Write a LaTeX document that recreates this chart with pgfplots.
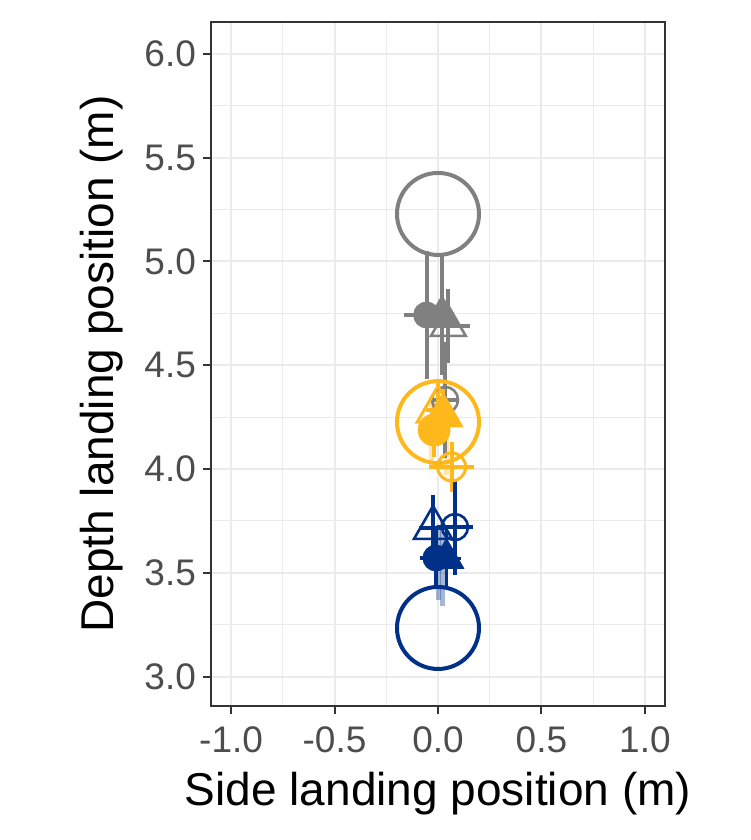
\documentclass[border=0pt]{standalone}
\usepackage{pgfplots}
\pgfplotsset{compat=1.18}
\usepackage{fontspec}
\setmainfont{Liberation Sans}
\definecolor{grayc}{HTML}{808080}
\definecolor{goldc}{HTML}{FFB81C}
\definecolor{bluec}{HTML}{003087}
\definecolor{gridc}{HTML}{EBEBEB}
\definecolor{framec}{HTML}{333333}
\definecolor{tickc}{HTML}{4D4D4D}
\pgfplotsset{
  eb/.style={error bars/.cd, x dir=both, x explicit, y dir=both, y explicit,
    error bar style={line width=1.9pt}, error mark options={line width=1.9pt, mark size=3pt}},
  lb/.style={draw=none, mark=none, error bars/.cd, y dir=both, y explicit,
    error bar style={line width=2.5pt, opacity=0.35, color=#1}, error mark=none},
}
\begin{document}
\begin{tikzpicture}
\begin{axis}[
  scale only axis, width=227pt, height=342pt,
  xmin=-1.097, xmax=1.097, ymin=2.858, ymax=6.154,
  xtick={-1,-0.5,0,0.5,1}, xticklabels={-1.0,-0.5,0.0,0.5,1.0},
  ytick={3,3.5,4,4.5,5,5.5,6}, yticklabels={3.0,3.5,4.0,4.5,5.0,5.5,6.0},
  minor xtick={-0.75,-0.25,0.25,0.75},
  minor ytick={3.25,3.75,4.25,4.75,5.25,5.75},
  grid=both,
  major grid style={line width=1pt, color=gridc},
  minor grid style={line width=0.5pt, color=gridc},
  axis line style={line width=0.9pt, color=framec},
  tick align=outside, major tick length=4pt, minor tick length=0pt,
  tick style={line width=1pt, color=framec},
  xtick pos=bottom, ytick pos=left,
  ticklabel style={font=\fontsize{18.5}{21}\selectfont, text=tickc},
  xticklabel style={yshift=-3pt},
  clip=false,
]
% light bars
\addplot[lb=goldc] coordinates {(-0.03,4.18) +- (0,0.17) (0.04,4.14) +- (0,0.17)};
\addplot[lb=bluec] coordinates {(0.0,3.55) +- (0,0.18) (0.02,3.55) +- (0,0.21)};
% targets
\addplot[only marks, mark=o, mark size=20.5pt, mark options={line width=2pt}, color=grayc] coordinates {(0,5.229)};
\addplot[only marks, mark=o, mark size=20.5pt, mark options={line width=2pt}, color=goldc] coordinates {(0,4.226)};
\addplot[only marks, mark=o, mark size=20.5pt, mark options={line width=2pt}, color=bluec] coordinates {(0,3.234)};
% gray
\addplot[only marks, mark=*, mark size=6.5pt, color=grayc, eb] coordinates {(-0.055,4.742) +- (0.08,0.28)};
\addplot[only marks, mark=triangle*, mark size=9.5pt, color=grayc, eb] coordinates {(0.019,4.745) +- (0.03,0.265)};
\addplot[only marks, mark=triangle, mark size=10pt, mark options={line width=1.3pt}, color=grayc, eb] coordinates {(0.05,4.69) +- (0.075,0.15)};
\addplot[only marks, mark=o, mark size=6.5pt, mark options={line width=1.3pt}, color=grayc, eb] coordinates {(0.034,4.333) +- (0.04,0.25)};
% gold
\addplot[only marks, mark=*, mark size=8pt, color=goldc, eb] coordinates {(-0.019,4.188) +- (0.03,0.1)};
\addplot[only marks, mark=triangle*, mark size=11.5pt, color=goldc, eb] coordinates {(0.024,4.258) +- (0.03,0.1)};
\addplot[only marks, mark=triangle, mark size=12pt, mark options={line width=1.5pt}, color=goldc, eb] coordinates {(0.0,4.284) +- (0.03,0.1)};
\addplot[only marks, mark=o, mark size=7pt, mark options={line width=1.5pt}, color=goldc, eb] coordinates {(0.066,4.01) +- (0.08,0.09)};
% blue
\addplot[only marks, mark=*, mark size=6.5pt, color=bluec, eb] coordinates {(-0.01,3.571) +- (0.05,0.12)};
\addplot[only marks, mark=triangle*, mark size=10pt, color=bluec, eb] coordinates {(0.041,3.569) +- (0.04,0.12)};
\addplot[only marks, mark=triangle, mark size=11pt, mark options={line width=1.3pt}, color=bluec, eb] coordinates {(-0.024,3.716) +- (0.04,0.13)};
\addplot[only marks, mark=o, mark size=6.5pt, mark options={line width=1.3pt}, color=bluec, eb] coordinates {(0.082,3.72) +- (0.06,0.2)};
\coordinate (SW) at (rel axis cs:0,0);
\coordinate (NE) at (rel axis cs:1,1);
\coordinate (LX) at (rel axis cs:0.5,0);
\coordinate (LY) at (rel axis cs:0,0.5);
\end{axis}
\node[anchor=north, inner sep=0pt, font=\fontsize{23}{27}\selectfont] at ([yshift=-33pt]LX) {Side landing position (m)};
\node[rotate=90, anchor=south, inner sep=0pt, font=\fontsize{23}{27}\selectfont] at ([xshift=-44pt]LY) {Depth landing position (m)};
\path ([shift={(-105.5pt,-67pt)}]SW) rectangle ([shift={(42.5pt,11pt)}]NE);
\end{tikzpicture}
\end{document}
